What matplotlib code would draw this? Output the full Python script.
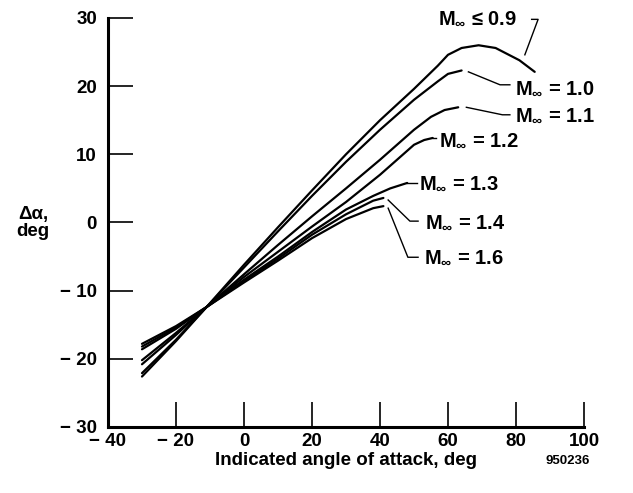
import matplotlib
matplotlib.use("Agg")
import matplotlib.pyplot as plt

# ---- data ----
x_09 = [-30, -20, -11, 0, 10, 20, 30, 40, 50, 57, 60, 64, 69, 74, 81, 85.5]
y_09 = [-22.6, -17.4, -12.4, -6.2, -0.7, 4.7, 10.0, 15.0, 19.6, 23.0, 24.6, 25.6, 26.0, 25.6, 23.8, 22.1]

x_10 = [-30, -20, -11, 0, 10, 20, 30, 40, 50, 57, 60, 64]
y_10 = [-22.1, -17.2, -12.4, -6.6, -1.3, 3.9, 8.9, 13.6, 18.0, 20.7, 21.8, 22.3]

x_11 = [-30, -20, -11, 0, 10, 20, 30, 40, 50, 55, 59, 63]
y_11 = [-20.8, -16.5, -12.4, -7.6, -3.3, 0.9, 5.0, 9.2, 13.6, 15.5, 16.5, 16.9]

x_12 = [-30, -20, -11, 0, 10, 20, 30, 40, 45, 50, 53, 55.5]
y_12 = [-20.2, -16.2, -12.4, -8.0, -4.3, -0.6, 3.0, 7.0, 9.2, 11.4, 12.1, 12.4]

x_13 = [-30, -20, -11, 0, 10, 20, 30, 38, 43, 48]
y_13 = [-17.8, -15.2, -12.4, -8.4, -5.0, -1.4, 1.9, 3.9, 5.0, 5.8]

x_14 = [-30, -20, -11, 0, 10, 20, 30, 38, 41]
y_14 = [-18.2, -15.4, -12.4, -8.6, -5.3, -1.8, 1.2, 3.2, 3.6]

x_16 = [-30, -20, -11, 0, 10, 20, 30, 38, 41]
y_16 = [-18.6, -15.6, -12.4, -8.8, -5.6, -2.3, 0.5, 2.1, 2.4]

curves = [(x_09, y_09), (x_10, y_10), (x_11, y_11), (x_12, y_12),
          (x_13, y_13), (x_14, y_14), (x_16, y_16)]

mach_labels = [r'$\mathrm{M}_{\infty}$ ≤ 0.9', r'$\mathrm{M}_{\infty}$ = 1.0',
               r'$\mathrm{M}_{\infty}$ = 1.1', r'$\mathrm{M}_{\infty}$ = 1.2',
               r'$\mathrm{M}_{\infty}$ = 1.3', r'$\mathrm{M}_{\infty}$ = 1.4',
               r'$\mathrm{M}_{\infty}$ = 1.6']

x_ticks = [-40, -20, 0, 20, 40, 60, 80, 100]
y_ticks = [-30, -20, -10, 0, 10, 20, 30]

# label anchor (left edge, middle) and leader line points, data units
label_pos = [(57.0, 30.0), (79.8, 19.7), (79.8, 15.8), (57.3, 12.1),
             (51.5, 5.8), (53.3, 0.1), (52.8, -5.1)]
leaders = [[(82.6, 24.6), (86.5, 29.8), (84.6, 29.8)],
           [(66.0, 22.1), (75.3, 20.2), (78.2, 20.2)],
           [(65.4, 16.9), (76.0, 15.8), (78.2, 15.8)],
           [(55.5, 12.4), (56.6, 12.4)],
           [(48.0, 5.8), (50.8, 5.8)],
           [(42.4, 3.3), (48.8, 0.2), (51.2, 0.2)],
           [(42.4, 2.1), (48.2, -5.1), (51.2, -5.1)]]

# ---- style ----
plt.rcParams['font.family'] = ['Liberation Sans', 'DejaVu Sans']
plt.rcParams['font.weight'] = 'bold'
plt.rcParams['mathtext.fontset'] = 'custom'
plt.rcParams['mathtext.rm'] = 'Liberation Sans:bold'
plt.rcParams['mathtext.it'] = 'Liberation Sans:bold'
plt.rcParams['mathtext.bf'] = 'Liberation Sans:bold'

fig = plt.figure(figsize=(6.33, 4.93), dpi=100)
ax = fig.add_axes([0.1706, 0.1339, 0.7520, 0.8296])

for xs, ys in curves:
    ax.plot(xs, ys, color='black', linewidth=1.6, solid_capstyle='round')

for (lx, ly), pts, txt in zip(label_pos, leaders, mach_labels):
    ax.plot([p[0] for p in pts], [p[1] for p in pts], color='black',
            linewidth=1.0, clip_on=False)
    ax.text(lx, ly, txt, fontsize=14.5, fontweight='bold', ha='left',
            va='center', clip_on=False)

ax.set_xlim(-40, 100)
ax.set_ylim(-30, 30)
ax.set_xticks(x_ticks)
ax.set_yticks(y_ticks)
ax.set_xticklabels([f'\u2212 {abs(v)}' if v < 0 else str(v) for v in x_ticks])
ax.set_yticklabels([f'\u2212 {abs(v)}' if v < 0 else str(v) for v in y_ticks])

for s in ['top', 'right']:
    ax.spines[s].set_visible(False)
for s in ['left', 'bottom']:
    ax.spines[s].set_linewidth(2.2)

ax.tick_params(axis='both', direction='in', length=18, width=1.2,
               labelsize=13.5)
ax.tick_params(axis='x', pad=4)
ax.tick_params(axis='y', pad=8)
for lab in ax.get_xticklabels() + ax.get_yticklabels():
    lab.set_fontweight('bold')

ax.set_xlabel('Indicated angle of attack, deg', fontsize=13.5,
              fontweight='bold', labelpad=2)

fig.text(0.052, 0.548, '\u0394\u03b1,\ndeg', fontsize=13.5, fontweight='bold',
         ha='center', va='center', linespacing=1.05)
fig.text(0.897, 0.065, '950236', fontsize=9.5, fontweight='bold',
         ha='center', va='center')

fig.savefig('out.png', dpi=100)
